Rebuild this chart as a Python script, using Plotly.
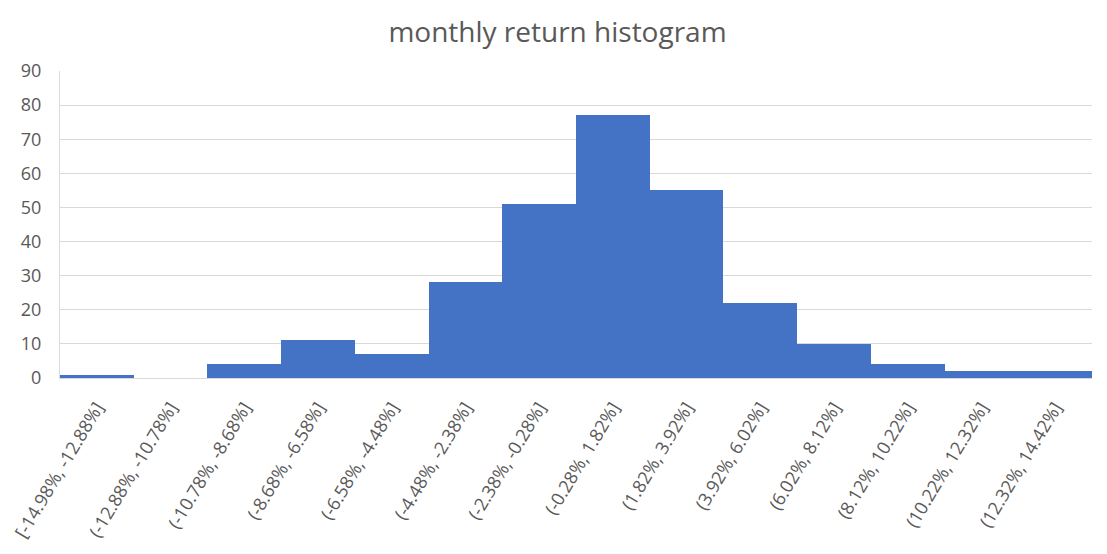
import plotly.graph_objects as go

bins = ["[-14.98%, -12.88%]", "(-12.88%, -10.78%]", "(-10.78%, -8.68%]", "(-8.68%, -6.58%]",
        "(-6.58%, -4.48%]", "(-4.48%, -2.38%]", "(-2.38%, -0.28%]", "(-0.28%, 1.82%]",
        "(1.82%, 3.92%]", "(3.92%, 6.02%]", "(6.02%, 8.12%]", "(8.12%, 10.22%]",
        "(10.22%, 12.32%]", "(12.32%, 14.42%]"]
counts = [1, 0, 4, 11, 7, 28, 51, 77, 55, 22, 10, 4, 2, 2]
y_ticks = [0, 10, 20, 30, 40, 50, 60, 70, 80, 90]

fig = go.Figure(go.Bar(x=bins, y=counts, marker=dict(color="#4472C4", line=dict(width=0)),
                       width=1.0))
fig.update_layout(
    width=1099, height=546,
    margin=dict(l=52, r=15, t=63, b=176),
    paper_bgcolor="white", plot_bgcolor="white",
    bargap=0,
    title=dict(text="monthly return histogram", x=0.5, xanchor="center", y=0.956, yanchor="middle",
               font=dict(family="Open Sans", size=28, color="#595959")),
    font=dict(family="Open Sans", color="#595959"),
    showlegend=False,
)
fig.update_xaxes(tickangle=-59, tickfont=dict(size=18, color="#595959"), showgrid=False,
                 showline=True, linecolor="#D9D9D9", linewidth=1, ticks="", ticklabelstandoff=11,
                 automargin=False)
fig.update_yaxes(range=[0, 90], tickvals=y_ticks, tickfont=dict(size=18, color="#595959"),
                 showgrid=True, gridcolor="#D9D9D9", gridwidth=1, zeroline=False,
                 showline=True, linecolor="#D9D9D9", ticks="", ticklabelstandoff=14,
                 automargin=False)
fig.write_html("out.html")
